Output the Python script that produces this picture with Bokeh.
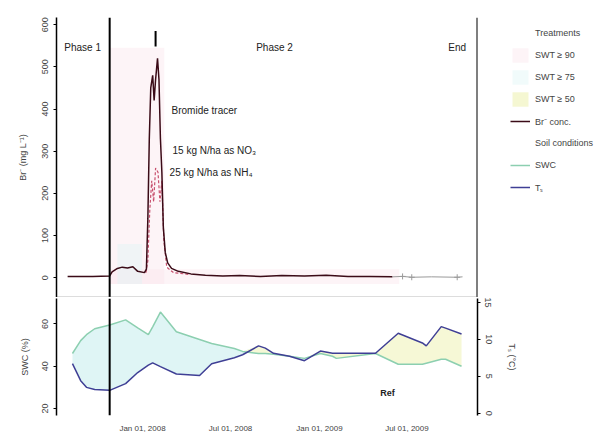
import numpy as np
import pandas as pd
from bokeh.plotting import figure
from bokeh.layouts import column
from bokeh.models import (Span, Range1d, LinearAxis, Legend, LegendItem, FixedTicker,
                          DatetimeTickFormatter, ColumnDataSource)
from bokeh.embed import file_html
from bokeh.resources import INLINE
from bokeh.core.properties import value

FONT = "Liberation Sans"

# ---------------- data ----------------
x_start = "2007-07-07"
x_end = "2009-11-24"
x_ticks = ["2008-01-01", "2008-07-01", "2009-01-01", "2009-07-01"]

phase_bounds = ["2007-10-25", "2009-11-24"]
phase_labels = ["Phase 1", "Phase 2", "End"]
phase_label_dates = ["2007-08-30", "2008-09-30", "2009-10-13"]
phase_label_y = [545, 545, 545]

# main tracer concentration series
conc_dates = ["2007-07-30", "2007-08-25", "2007-09-20", "2007-10-25", "2007-10-30",
              "2007-11-10", "2007-11-20", "2007-12-01", "2007-12-12", "2007-12-22",
              "2008-01-05", "2008-01-09", "2008-01-12", "2008-01-15", "2008-01-18",
              "2008-01-22", "2008-01-25", "2008-01-28", "2008-02-01", "2008-02-04",
              "2008-02-07", "2008-02-10", "2008-02-13", "2008-02-17", "2008-02-22",
              "2008-03-01", "2008-03-15", "2008-04-10", "2008-05-10", "2008-06-15",
              "2008-07-20", "2008-09-01", "2008-10-15", "2008-12-01", "2009-01-15",
              "2009-03-01", "2009-04-15", "2009-06-01"]
conc_values = [3, 3, 3, 4, 14, 22, 25, 23, 26, 15, 12, 20, 140, 330, 450, 480, 420, 470,
               520, 470, 330, 250, 120, 60, 35, 22, 15, 9, 6, 4, 5, 3, 5, 4, 6, 3, 3, 2]

# secondary (dashed) series
conc2_dates = ["2008-01-08", "2008-01-12", "2008-01-16", "2008-01-20", "2008-01-24",
               "2008-01-28", "2008-02-02", "2008-02-06", "2008-02-10", "2008-02-14",
               "2008-02-20", "2008-03-05", "2008-04-05"]
conc2_values = [12, 40, 160, 230, 180, 260, 250, 180, 230, 90, 25, 12, 8]

# tail of the record after sampling ended
tail_dates = ["2009-06-01", "2009-06-22", "2009-07-11", "2009-08-21", "2009-10-13", "2009-10-24"]
tail_values = [2, 3, 1, 2, 1, 2]
tail_marker_dates = ["2009-06-22", "2009-07-11", "2009-10-13"]
tail_marker_values = [3, 1, 1]

event_dates = ["2008-01-28"]
event_low = [548]
event_high = [585]

notes = ["Bromide tracer", "15 kg N/ha as NO\u2083", "25 kg N/ha as NH\u2084"]
note_dates = ["2008-03-01", "2008-03-03", "2008-02-26"]
note_values = [396, 301, 249]

# treatment shading periods (top panel)
shade_names = ["SWT \u2265 90", "SWT \u2265 90", "SWT \u2265 75"]
shade_left = ["2007-10-25", "2007-10-25", "2007-11-10"]
shade_right = ["2008-02-15", "2009-06-15", "2007-12-31"]
shade_bottom = [-15, -15, -15]
shade_top = [545, 20, 80]

# soil panel series (common dates)
soil_dates = ["2007-08-09", "2007-08-26", "2007-09-07", "2007-09-24", "2007-10-25",
              "2007-11-27", "2007-12-22", "2008-01-13", "2008-01-22", "2008-02-07",
              "2008-03-11", "2008-04-28", "2008-05-23", "2008-07-09", "2008-07-26",
              "2008-08-28", "2008-09-11", "2008-09-28", "2008-10-31", "2008-12-01",
              "2009-01-03", "2009-01-28", "2009-02-05", "2009-04-27", "2009-06-13",
              "2009-08-02", "2009-08-10", "2009-09-10", "2009-09-19", "2009-10-22"]
swc_values = [46.0, 52.1, 54.9, 57.7, 59.5, 61.9, 58.1, 54.9, 58.6, 65.6,
              56.3, 52.6, 50.7, 48.4, 47.0, 46.0, 46.0, 45.6, 44.7, 43.7,
              46.0, 44.7, 43.7, 46.0, 40.9, 40.9, 41.4, 43.3, 43.3, 40.0]
temp_values = [6.7, 4.4, 3.5, 3.2, 3.1, 4.0, 5.5, 6.5, 6.8, 6.3,
               5.3, 5.1, 6.7, 7.5, 7.9, 9.1, 8.8, 8.1, 7.7, 7.1,
               8.4, 8.1, 8.1, 8.1, 10.8, 9.5, 9.1, 11.7, 11.5, 10.7]

top_ticks = [0, 100, 200, 300, 400, 500, 600]
swc_ticks = [20, 40, 60]
temp_ticks = [0, 5, 10, 15]

# ---------------- helpers ----------------
D = pd.to_datetime
xr = Range1d(D(x_start), D(x_end))

PINK = "#fbe3ea"
CYAN = "#dcf4f4"
YELLOW = "#f5f7d2"
MAIN = "#3b0b17"
DASH = "#c8506e"
GREEN = "#8ccfb0"
BLUE = "#3f3f95"


def style_axis(ax, size="9px"):
    ax.major_label_text_font = FONT
    ax.major_label_text_font_size = size
    ax.axis_label_text_font = FONT
    ax.axis_label_text_font_size = "9px"
    ax.axis_label_text_font_style = "normal"
    ax.axis_line_color = "black"
    ax.axis_line_width = 1.5
    ax.major_tick_line_color = "black"
    ax.major_tick_out = 3
    ax.major_tick_in = 0
    ax.minor_tick_line_color = None


# ---------------- top panel ----------------
p1 = figure(frame_width=421, frame_height=280, x_range=xr, y_range=Range1d(-47, 617),
            x_axis_type="datetime", x_axis_location=None,
            output_backend="svg", toolbar_location=None,
            min_border_left=56, min_border_top=17, min_border_bottom=0, min_border_right=125)
p1.outline_line_color = None
p1.grid.visible = False

shade_colors = [PINK if n.endswith("90") else CYAN for n in shade_names]
sh_src = ColumnDataSource(dict(left=D(shade_left), right=D(shade_right),
                               bottom=shade_bottom, top=shade_top, color=shade_colors))
r_shade = p1.quad(left="left", right="right", bottom="bottom", top="top",
                  fill_color="color", line_color=None, fill_alpha=0.4, source=sh_src)
r_yel = p1.quad(left="left", right="right", bottom="bottom", top="top",
                fill_color=YELLOW, line_color=None, source=sh_src, visible=False)

p1.line(D(conc2_dates), conc2_values, line_color=DASH, line_width=1.2, line_dash="3 2")
r_main = p1.line(D(conc_dates), conc_values, line_color=MAIN, line_width=1.5)
p1.line(D(tail_dates), tail_values, line_color="#9a9a9a", line_width=1)
p1.scatter(D(tail_marker_dates), tail_marker_values, marker="cross", size=6,
           line_color="#9a9a9a")
p1.segment(x0=D(event_dates), y0=event_low, x1=D(event_dates), y1=event_high,
           line_color="black", line_width=2)

for d in phase_bounds:
    p1.add_layout(Span(location=D(d), dimension="height", line_color="black", line_width=2))
p1.add_layout(Span(location=-47, dimension="width", line_color="#777777", line_width=1.5))

p1.text(x=D(phase_label_dates), y=phase_label_y, text=phase_labels,
        text_font=value(FONT), text_font_size="10px", text_align="center",
        text_baseline="middle", text_color="#222222")
p1.text(x=D(note_dates), y=note_values, text=notes, text_font=value(FONT),
        text_font_size="10px", text_align="left", text_baseline="middle",
        text_color="#222222")

p1.yaxis.ticker = FixedTicker(ticks=top_ticks)
p1.yaxis.major_label_orientation = "vertical"
p1.yaxis.axis_label = "Br\u207b (mg L\u207b\u00b9)"
style_axis(p1.yaxis[0])
p1.yaxis.axis_label_standoff = 12

# renderers used only by the legend
r_h1 = p1.line(D(soil_dates), swc_values, line_alpha=0, visible=False)
r_h2 = p1.line(D(soil_dates), temp_values, line_alpha=0, visible=False)
r_swc = p1.line(D(soil_dates), swc_values, line_color=GREEN, line_width=1.5, visible=False)
r_tmp = p1.line(D(soil_dates), temp_values, line_color=BLUE, line_width=1.5, visible=False)

legend = Legend(items=[
    LegendItem(label="Treatments", renderers=[r_h1]),
    LegendItem(label="SWT \u2265 90", renderers=[r_shade], index=0),
    LegendItem(label="SWT \u2265 75", renderers=[r_shade], index=2),
    LegendItem(label="SWT \u2265 50", renderers=[r_yel], index=0),
    LegendItem(label="Br\u207b conc.", renderers=[r_main]),
    LegendItem(label="Soil conditions", renderers=[r_h2]),
    LegendItem(label="SWC", renderers=[r_swc]),
    LegendItem(label="T\u209b", renderers=[r_tmp]),
], location=(33, 101))
legend.border_line_color = None
legend.background_fill_alpha = 0
legend.inactive_fill_alpha = 0
legend.label_text_font = FONT
legend.label_text_font_size = "9px"
legend.glyph_width = 20
legend.glyph_height = 18
legend.label_height = 18
legend.spacing = 4
legend.padding = 3
legend.margin = 0
legend.label_standoff = 5
p1.add_layout(legend, "right")

# ---------------- bottom panel ----------------
swc_range = (16.7, 72.0)
temp_range = (-0.3, 15.5)
p2 = figure(frame_width=421, frame_height=117, x_range=xr,
            y_range=Range1d(*swc_range), x_axis_type="datetime",
            output_backend="svg", toolbar_location=None,
            min_border_left=56, min_border_top=1, min_border_bottom=0, min_border_right=125)
p2.extra_y_ranges = {"temp": Range1d(*temp_range)}
p2.outline_line_color = None
p2.grid.visible = False

sd = D(soil_dates)
swc = np.array(swc_values)
tmp = np.array(temp_values)
# temperature expressed in the soil-water axis units, for shading between the curves
tmp_on_left = swc_range[0] + (tmp - temp_range[0]) / (temp_range[1] - temp_range[0]) * (swc_range[1] - swc_range[0])
upper = np.maximum(swc, tmp_on_left)
p2.varea(x=sd, y1=tmp_on_left, y2=upper, fill_color=CYAN, fill_alpha=0.9)
p2.varea(x=sd, y1=swc, y2=upper, fill_color=YELLOW, fill_alpha=0.9)
p2.line(sd, swc, line_color=GREEN, line_width=1.5)
p2.line(sd, tmp, line_color=BLUE, line_width=1.5, y_range_name="temp")

p2.add_layout(Span(location=D(phase_bounds[0]), dimension="height", line_color="black",
                   line_width=2))
p2.text(x=D(["2009-05-22"]), y=[27.3], text=["Ref"], text_font=value(FONT),
        text_font_size="9px", text_align="center", text_baseline="middle",
        text_font_style="bold", text_color="#222222")

p2.yaxis.ticker = FixedTicker(ticks=swc_ticks)
p2.yaxis.major_label_orientation = "vertical"
p2.yaxis.axis_label = "SWC (%)"
style_axis(p2.yaxis[0])
p2.yaxis.axis_label_standoff = 10

ax_r = LinearAxis(y_range_name="temp", axis_label="T\u209b (\u00b0C)",
                  ticker=FixedTicker(ticks=temp_ticks))
ax_r.major_label_orientation = "vertical"
style_axis(ax_r)
ax_r.axis_label_standoff = 12
p2.add_layout(ax_r, "right")

tick_ms = [pd.Timestamp(t).value / 1e6 for t in x_ticks]
p2.xaxis.ticker = FixedTicker(ticks=tick_ms)
fmt = "%b %d, %Y"
p2.xaxis.formatter = DatetimeTickFormatter(days=fmt, months=fmt, years=fmt)
style_axis(p2.xaxis[0], size="8px")
p2.xaxis.axis_line_color = None
p2.xaxis.major_tick_line_color = None

layout = column(p1, p2, spacing=0)
open("out.html", "w").write(file_html(layout, INLINE))
